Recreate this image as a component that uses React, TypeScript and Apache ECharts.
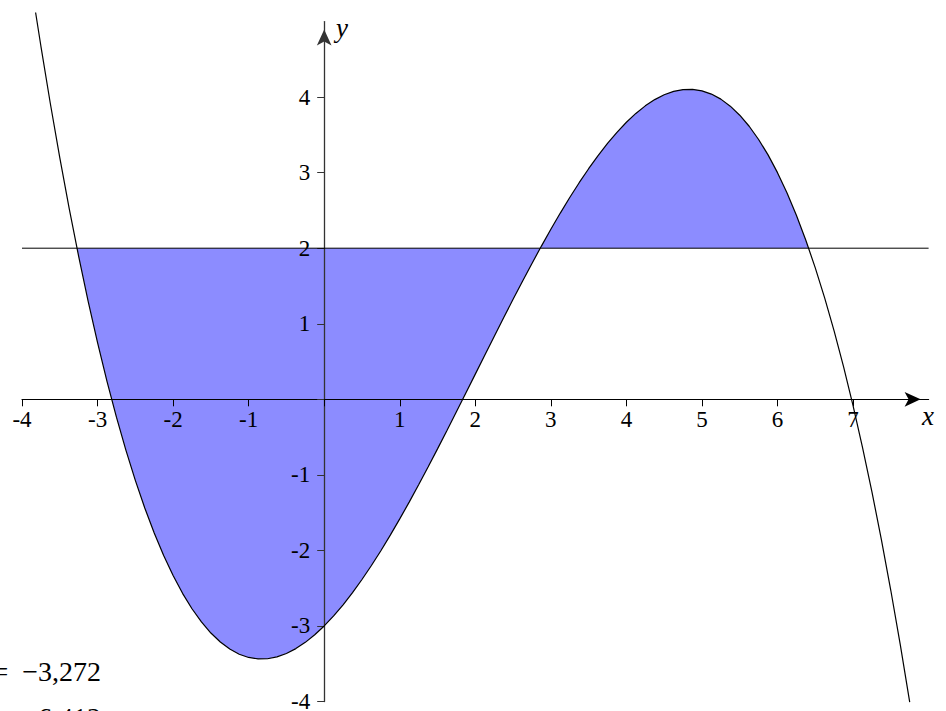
import React, { useEffect, useRef } from "react";
import * as echarts from "echarts";

// Curve y = f(x)
const curveX = [
  -3.82, -3.75, -3.625, -3.5, -3.375, -3.25, -3.125, -3, -2.875, -2.75, -2.625, -2.5, -2.375, -2.25, -2.125,
  -2, -1.875, -1.75, -1.625, -1.5, -1.375, -1.25, -1.125, -1, -0.875, -0.75, -0.625, -0.5, -0.375, -0.25, -0.125,
  0, 0.125, 0.25, 0.375, 0.5, 0.625, 0.75, 0.875, 1, 1.125, 1.25, 1.375, 1.5, 1.625, 1.75, 1.875,
  2, 2.125, 2.25, 2.375, 2.5, 2.625, 2.75, 2.875, 3, 3.125, 3.25, 3.375, 3.5, 3.625, 3.75, 3.875,
  4, 4.125, 4.25, 4.375, 4.5, 4.625, 4.75, 4.875, 5, 5.125, 5.25, 5.375, 5.5, 5.625, 5.75, 5.875,
  6, 6.125, 6.25, 6.375, 6.5, 6.625, 6.75, 6.875, 7, 7.125, 7.25, 7.375, 7.5, 7.625, 7.75,
];
const curveY = [
  5.12, 4.676, 3.915, 3.198, 2.524, 1.892, 1.301, 0.75, 0.238, -0.236, -0.672, -1.073, -1.438, -1.77, -2.068,
  -2.333, -2.568, -2.772, -2.947, -3.094, -3.213, -3.306, -3.374, -3.417, -3.436, -3.434, -3.409, -3.365, -3.3, -3.217, -3.117,
  -3, -2.867, -2.72, -2.559, -2.385, -2.2, -2.004, -1.798, -1.583, -1.361, -1.132, -0.896, -0.656, -0.412, -0.165, 0.084,
  0.333, 0.583, 0.832, 1.079, 1.323, 1.563, 1.798, 2.028, 2.25, 2.465, 2.671, 2.867, 3.052, 3.226, 3.387, 3.534,
  3.667, 3.784, 3.884, 3.967, 4.031, 4.076, 4.1, 4.103, 4.083, 4.04, 3.973, 3.88, 3.76, 3.614, 3.439, 3.235,
  3.0, 2.735, 2.436, 2.105, 1.74, 1.339, 0.902, 0.429, -0.083, -0.635, -1.225, -1.857, -2.531, -3.248, -4.009,
];

// Level line and its crossings with the curve
const level = 2;
const crossings = [-3.272, 2.86, 6.412];

const xTicks = [-4, -3, -2, -1, 0, 1, 2, 3, 4, 5, 6, 7];
const xLabels = [-4, -3, -2, -1, 1, 2, 3, 4, 5, 6, 7];
const yTicks = [-4, -3, -2, -1, 0, 1, 2, 3, 4];
const yLabels = [-4, -3, -2, -1, 1, 2, 3, 4];

const noteLines = ["=\u2002−3,272", "= 6,412"];

const SERIF = "'Liberation Serif', 'DejaVu Serif', serif";

export default function App() {
  const ref = useRef<HTMLDivElement>(null);

  useEffect(() => {
    if (!ref.current) return;
    const chart = echarts.init(ref.current, undefined, { renderer: "svg" });

    const curveData = curveX.map((x, i) => [x, curveY[i]]);
    const fillData: number[][] = [[crossings[0], level]];
    curveX.forEach((x, i) => {
      if (x > crossings[0] && x < crossings[2]) {
        if (x > crossings[1] && fillData[fillData.length - 1][0] < crossings[1]) {
          fillData.push([crossings[1], level]);
        }
        fillData.push([x, curveY[i]]);
      }
    });
    fillData.push([crossings[2], level]);

    const u = 75.55;
    const gridLeft = 22;
    const gridTop = 399.3 - 5 * u;
    const shift = -4 * u; // move axes from grid edges to the zero lines

    chart.setOption({
      animation: false,
      grid: {
        left: gridLeft,
        top: gridTop,
        width: 12 * u,
        height: 9 * u,
        containLabel: false,
        outerBoundsMode: "none",
      },
      xAxis: {
        type: "value",
        min: -4,
        max: 8,
        interval: 1,
        position: "bottom",
        offset: shift,
        z: 2,
        axisLine: {
          onZero: false,
          symbol: ["none", "arrow"],
          symbolSize: [11, 16],
          symbolOffset: [0, -8],
          lineStyle: { color: "#000", width: 1.2 },
        },
        axisTick: { customValues: xTicks, length: 7, lineStyle: { color: "#000", width: 1 } },
        axisLabel: {
          customValues: xLabels,
          color: "#000",
          fontFamily: SERIF,
          fontSize: 23,
          margin: 9,
        },
        splitLine: { show: false },
      },
      yAxis: {
        type: "value",
        min: -4,
        max: 5,
        interval: 1,
        position: "left",
        offset: shift,
        z: 2,
        axisLine: {
          onZero: false,
          symbol: ["none", "arrow"],
          symbolSize: [11, 16],
          symbolOffset: [0, -8],
          lineStyle: { color: "#333", width: 1.3 },
        },
        axisTick: { customValues: yTicks, length: 7, lineStyle: { color: "#333", width: 1 } },
        axisLabel: {
          customValues: yLabels,
          color: "#000",
          fontFamily: SERIF,
          fontSize: 23,
          margin: 14,
        },
        splitLine: { show: false },
      },
      series: [
        {
          type: "line",
          data: fillData,
          showSymbol: false,
          symbol: "none",
          z: 1,
          lineStyle: { width: 0, opacity: 0 },
          areaStyle: { color: "#8C8CFF", opacity: 1, origin: level },
          silent: true,
        },
        {
          type: "line",
          data: [[-4, level], [8, level]],
          showSymbol: false,
          symbol: "none",
          z: 3,
          lineStyle: { color: "#000", width: 1 },
          silent: true,
        },
        {
          type: "line",
          data: curveData,
          clip: false,
          showSymbol: false,
          symbol: "none",
          z: 4,
          lineStyle: { color: "#000", width: 1.2 },
          silent: true,
        },
      ],
      graphic: [
        {
          type: "text",
          x: 928,
          y: 416,
          z: 10,
          style: {
            text: "x",
            fontFamily: SERIF,
            fontStyle: "italic",
            fontSize: 27,
            fill: "#000",
            align: "center",
            verticalAlign: "middle",
            textAlign: "center",
            textVerticalAlign: "middle",
          },
        },
        {
          type: "text",
          x: 342,
          y: 28,
          z: 10,
          style: {
            text: "y",
            fontFamily: SERIF,
            fontStyle: "italic",
            fontSize: 27,
            fill: "#000",
            align: "center",
            verticalAlign: "middle",
            textAlign: "center",
            textVerticalAlign: "middle",
          },
        },
        ...noteLines.map((t, i) => ({
          type: "text",
          x: 101,
          y: 671 + i * 46,
          z: 10,
          style: {
            text: t,
            fontFamily: SERIF,
            fontSize: 28,
            fill: "#000",
            align: "right",
            verticalAlign: "middle",
            textAlign: "right",
            textVerticalAlign: "middle",
          },
        })),
      ],
    });

    return () => chart.dispose();
  }, []);

  return (
    <div
      ref={ref}
      style={{ position: "fixed", left: 0, top: 0, width: 946, height: 711, background: "#fff" }}
    />
  );
}
